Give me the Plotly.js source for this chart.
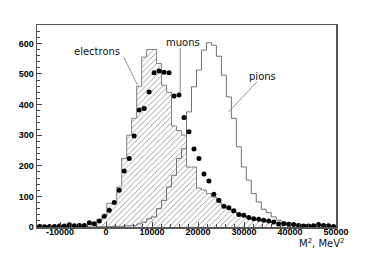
<!DOCTYPE html>
<html><head><meta charset="utf-8">
<script src="https://cdn.plot.ly/plotly-3.0.1.min.js"></script>
<style>html,body{margin:0;padding:0;background:#fff}#plot{width:374px;height:253px}</style>
</head><body><div id="plot"></div>
<script>
// Histogram definition: 60 bins from -15000 to 50000 (MeV^2)
const binLow = -15000;
const binHigh = 50000;
const nBins = 60;

// electrons (hatched histogram), bin contents
const electrons = [1,0,1,1,1,2,2,3,4,6,
  8,15,24,36,77,78,131,224,300,355,
  460,555,580,580,534,463,440,330,315,300,
  196,196,127,121,109,98,80,68,60,48,
  44,35,32,26,24,22,17,15,12,11,
  10,8,7,6,5,4,4,3,3,2];
// pions (open histogram)
const pions = [0,0,0,0,0,0,0,0,0,0,
  0,0,1,1,1,2,2,3,4,5,
  10,16,27,33,60,87,131,169,224,256,
  376,458,513,578,602,594,558,496,425,355,
  262,196,153,109,82,58,47,33,22,16,
  13,11,9,8,7,6,5,4,3,3];
// muons (points)
const muons = [2,1,2,2,3,3,7,4,5,5,
  14,11,20,35,55,80,120,183,224,297,
  382,387,441,504,510,506,504,428,431,358,
  311,255,224,173,150,107,87,68,63,53,
  41,38,31,27,25,22,20,16,10,11,
  9,8,5,3,3,4,8,5,4,2];

const xTickVals = [-10000,0,10000,20000,30000,40000,50000];
const xTickText = ["-10000","0","10000","20000","30000","40000","50000"];
const yTickVals = [0,100,200,300,400,500,600];
const yTickText = ["0","100","200","300","400","500","600"];

const labels = ["electrons","muons","pions"];

// derived bin edges / centers
const w = (binHigh - binLow) / nBins;
const edges = [], centers = [];
for (let i = 0; i <= nBins; i++) edges.push(binLow + i * w);
for (let i = 0; i < nBins; i++) centers.push(binLow + (i + 0.5) * w);
function stepY(vals){ return vals.concat([vals[vals.length-1]]); }

const traces = [
  {x: edges, y: stepY(electrons), type:'scatter', mode:'lines',
   line:{shape:'hv', color:'#808080', width:1},
   fill:'tozeroy', fillcolor:'rgba(0,0,0,0)',
   fillpattern:{shape:'/', fgcolor:'#8a8a8a', bgcolor:'#ffffff', size:4, solidity:0.2},
   hoverinfo:'skip', name: labels[0]},
  {x: edges, y: stepY(pions), type:'scatter', mode:'lines',
   line:{shape:'hv', color:'#707070', width:1}, hoverinfo:'skip', name: labels[2]},
  {x: centers, y: muons, type:'scatter', mode:'markers',
   marker:{color:'#000', size:5}, hoverinfo:'skip', name: labels[1]}
];

const tickFont = {family:'Liberation Sans, Arial, sans-serif', size:9, color:'#000', weight:'bold'};
const layout = {
  width:374, height:253,
  margin:{l:37, r:38, t:25, b:26},
  paper_bgcolor:'#fff', plot_bgcolor:'#fff',
  showlegend:false,
  xaxis:{range:[binLow, binHigh], tickvals:xTickVals, ticktext:xTickText,
    ticks:'inside', ticklen:5, tickcolor:'#444', showgrid:false, zeroline:false,
    showline:true, linecolor:'#555', linewidth:1.5, mirror:true,
    tickfont:tickFont, ticklabelstandoff:-4,
    minor:{dtick:2000, ticks:'inside', ticklen:3, tickcolor:'#444', showgrid:false}},
  yaxis:{range:[0, 660], tickvals:yTickVals, ticktext:yTickText,
    ticks:'inside', ticklen:5, tickcolor:'#444', showgrid:false, zeroline:false,
    showline:true, linecolor:'#555', linewidth:1.5, mirror:true,
    tickfont:tickFont,
    minor:{dtick:20, ticks:'inside', ticklen:3, tickcolor:'#444', showgrid:false}},
  annotations:[
    {x:-1890, y:575, xref:'x', yref:'y', text:labels[0], showarrow:false,
     font:{family:'DejaVu Sans, sans-serif', size:10, color:'#111'}},
    {x:16700, y:603, xref:'x', yref:'y', text:labels[1], showarrow:false,
     font:{family:'DejaVu Sans, sans-serif', size:10, color:'#111'}},
    {x:34090, y:493, xref:'x', yref:'y', text:labels[2], showarrow:false,
     font:{family:'DejaVu Sans, sans-serif', size:10, color:'#111'}},
    {x:1.037, y:-0.079, xref:'paper', yref:'paper', xanchor:'right', yanchor:'middle',
     text:'M<sup>2</sup>, MeV<sup>2</sup>', showarrow:false,
     font:{family:'DejaVu Sans, sans-serif', size:10, color:'#111'}}
  ],
  shapes:[
    {type:'line', xref:'x', yref:'y', x0:3826, y0:556, x1:6870, y1:463, line:{color:'#777', width:0.8}},
    {type:'line', xref:'x', yref:'y', x0:16150, y0:585, x1:16150, y1:440, line:{color:'#999', width:1.2}},
    {type:'line', xref:'x', yref:'y', x0:32830, y0:474, x1:26650, y1:376, line:{color:'#777', width:0.8}}
  ]
};
Plotly.newPlot('plot', traces, layout, {staticPlot:true, displayModeBar:false});
</script></body></html>
